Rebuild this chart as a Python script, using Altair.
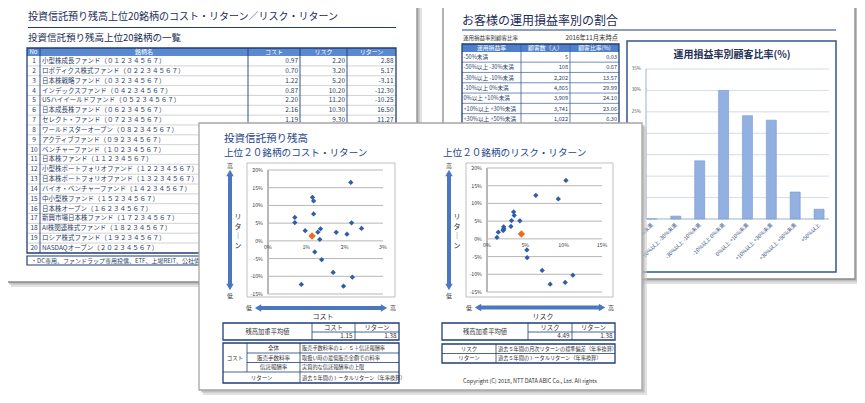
import altair as alt
import pandas as pd

FONT = "Noto Sans CJK JP"
M = 8  # page margin of the browser

# ---------------- data ----------------
fund_no = list(range(1, 21))
fund_names = [
    "小型株成長ファンド（０１２３４５６７）",
    "ロボティクス株式ファンド（０２２３４５６７）",
    "日本株戦略ファンド（０３２３４５６７）",
    "インデックスファンド（０４２３４５６７）",
    "USハイイールドファンド（０５２３４５６７）",
    "日本成長株ファンド（０６２３４５６７）",
    "セレクト・ファンド（０７２３４５６７）",
    "ワールドスターオープン（０８２３４５６７）",
    "アクティブファンド（０９２３４５６７）",
    "ベンチャーファンド（１０２３４５６７）",
    "日本株ファンド（１１２３４５６７）",
    "小型株ポートフォリオファンド（１２２３４５６７）",
    "日本株ポートフォリオファンド（１３２３４５６７）",
    "バイオ・ベンチャーファンド（１４２３４５６７）",
    "中小型株ファンド（１５２３４５６７）",
    "日本株オープン（１６２３４５６７）",
    "新興市場日本株ファンド（１７２３４５６７）",
    "AI株関連株式ファンド（１８２３４５６７）",
    "ロシア株式ファンド（１９２３４５６７）",
    "NASDAQオープン（２０２３４５６７）",
]
fund_cost = [0.97, 0.70, 1.22, 0.87, 2.20, 2.16, 1.19, 1.16, 1.19, 0.70,
             2.18, 2.44, 1.37, 1.30, 1.78, 2.06, 1.35, 1.40, 1.70, 1.97]
fund_risk = [2.20, 3.20, 5.20, 10.20, 11.20, 10.30, 9.30, 6.37, 3.47, 3.55,
             4.29, 3.12, 2.17, 2.08, 2.15, 1.47, 1.30, 5.24, 7.20, 8.24]
fund_return = [2.88, 5.17, -3.11, -12.30, -10.25, 16.50, 11.27, 12.30, 7.60, 6.60,
               5.10, 3.50, 3.40, 2.45, 2.40, 1.90, 0.40, -5.30, -8.90, -12.80]
avg_cost, avg_risk, avg_return = 1.15, 4.49, 1.38
visible_rows = 7  # rows of the fund list not covered by the front sheet

band_labels = ["-50%未満", "-50%以上 -30%未満", "-30%以上 -10%未満", "-10%以上 0%未満",
               "0%以上 +10%未満", "+10%以上 +30%未満", "+30%以上 +50%未満", "+50%以上"]
band_customers = [5, 108, 2202, 4865, 3909, 3741, 1022, 370]
band_ratio = [0.03, 0.67, 13.57, 29.99, 24.10, 23.06, 6.30, 2.28]

return_ticks = [-15, -10, -5, 0, 5, 10, 15, 20]
cost_ticks = [0, 1, 2, 3]
risk_ticks = [0, 5, 10, 15]
ratio_ticks = [0, 5, 10, 15, 20, 25, 30, 35]

# ---------------- style ----------------
NAVY = "#1f3d7a"
TITLE = "#1b2c56"
BLUE_T = "#24468a"
HEAD_A = "#5b89cf"
HEAD_B = "#4f7fc8"
ARROW = "#4a78c0"
PT = "#2f5da6"
ORANGE = "#e2711d"
GRID = "#b7b7b7"
TXT = "#2c3e66"


def sx(v):
    return v - M


def sy(v):
    return v - M


def deco_rect(rows, **mark):
    df = pd.DataFrame([{"x": sx(a), "y": sy(b), "x2": sx(c), "y2": sy(d)} for a, b, c, d in rows])
    return alt.Chart(df).mark_rect(**mark).encode(
        x=alt.X("x:Q", scale=None), x2="x2:Q",
        y=alt.Y("y:Q", scale=None), y2="y2:Q")


def deco_line(rows, **mark):
    df = pd.DataFrame([{"x": sx(a), "y": sy(b), "x2": sx(c), "y2": sy(d)} for a, b, c, d in rows])
    return alt.Chart(df).mark_rule(**mark).encode(
        x=alt.X("x:Q", scale=None), x2="x2:Q",
        y=alt.Y("y:Q", scale=None), y2="y2:Q")


def deco_text(rows, **mark):
    df = pd.DataFrame([{"x": sx(a), "y": sy(b), "t": t} for a, b, t in rows])
    props = dict(font=FONT, baseline="middle", color="#333333", fontSize=6.5, align="left")
    props.update(mark)
    return alt.Chart(df).mark_text(**props).encode(
        x=alt.X("x:Q", scale=None), y=alt.Y("y:Q", scale=None), text="t:N")


def deco_point(rows, **mark):
    df = pd.DataFrame([{"x": sx(a), "y": sy(b)} for a, b in rows])
    return alt.Chart(df).mark_point(**mark).encode(
        x=alt.X("x:Q", scale=None), y=alt.Y("y:Q", scale=None))


def page(x1, y1, x2, y2, stroke):
    return [
        deco_rect([(x1 + 4, y1 + 4, x2 + 5, y2 + 5)], fill="#c9c9c9", opacity=0.55),
        deco_rect([(x1 + 2, y1 + 2, x2 + 2.5, y2 + 2.5)], fill="#a9a9a9", opacity=0.6),
        deco_rect([(x1, y1, x2, y2)], fill="white", stroke=stroke, strokeWidth=1.3),
    ]


layers = []

# ================= Document A (back left) =================
layers += page(7, 1, 417, 282, "#8a8a8a")
layers.append(deco_text([(28, 17, "投資信託預り残高上位20銘柄のコスト・リターン／リスク・リターン")],
                        fontSize=10, color=TITLE))
layers.append(deco_line([(28, 27.5, 396, 27.5)], color=NAVY, strokeWidth=1))
layers.append(deco_text([(28, 37.5, "投資信託預り残高上位20銘柄の一覧")], fontSize=9.5, color=TITLE))

rowA_y = [61 + (r - 1) * 9.84 for r in fund_no]
layers.append(deco_rect([(27, 48, 396, 56.1)], fill=HEAD_A))
layers.append(deco_line([(27, y + 4.92, 396, y + 4.92) for y in rowA_y[:-1]], color="#c6c6c6", strokeWidth=0.8))
layers.append(deco_line([(40, 48, 40, 253), (248, 48, 248, 253), (300, 48, 300, 253), (347, 48, 347, 253)],
                        color=NAVY, strokeWidth=0.9))
layers.append(deco_rect([(27, 48, 396, 253)], fill="white", fillOpacity=0, stroke=NAVY, strokeWidth=1.3))
layers.append(deco_text([(33.5, 52.2, "No"), (144, 52.2, "銘柄名"), (274, 52.2, "コスト"),
                         (323.5, 52.2, "リスク"), (371.5, 52.2, "リターン")],
                        color="white", fontSize=6, align="center"))

tA = pd.DataFrame({
    "no": fund_no, "name": fund_names,
    "cost": [f"{v:.2f}" for v in fund_cost],
    "risk": [f"{v:.2f}" for v in fund_risk],
    "ret": [f"{v:.2f}" for v in fund_return],
})
tA_vis = tA[tA.no <= visible_rows]
ysA = alt.Scale(domain=[1, 20], range=[sy(rowA_y[0]), sy(rowA_y[-1])])


def colA(df, field, xpos, align):
    return alt.Chart(df).mark_text(font=FONT, fontSize=6.5, color=TXT, align=align, baseline="middle").encode(
        x=alt.value(sx(xpos)), y=alt.Y("no:Q", scale=ysA, axis=None), text=f"{field}:N")


layers.append(alt.layer(colA(tA, "no", 34, "center"), colA(tA, "name", 42, "left"),
                        colA(tA_vis, "cost", 298, "right"), colA(tA_vis, "risk", 345, "right"),
                        colA(tA_vis, "ret", 393.5, "right")))
layers.append(deco_rect([(27, 256, 396, 265)], fill="white", stroke=NAVY, strokeWidth=1.2))
layers.append(deco_text([(31, 260.6, "・DC専用、ファンドラップ専用投信、ETF、上場REIT、公社債投信")],
                        fontSize=6, color=TXT))

# ================= Document B (back right) =================
layers += page(443, 1, 855, 279, "#8a8a8a")
layers.append(deco_text([(462, 21, "お客様の運用損益率別の割合")], fontSize=12, color=TITLE))
layers.append(deco_line([(462, 30, 836, 30)], color=NAVY, strokeWidth=1))
layers.append(deco_text([(463, 38, "運用損益率別顧客比率")], fontSize=5.5, color="#333333"))
layers.append(deco_text([(618, 38, "2016年11月末時点")], fontSize=6.3, color="#333333", align="right"))

rowB_y = [57 + i * 10.3 for i in range(len(band_labels))]
layers.append(deco_rect([(462, 44, 619, 52)], fill=HEAD_B))
layers.append(deco_line([(462, y + 5.15, 619, y + 5.15) for y in rowB_y[:-1]], color="#3d5d9a", strokeWidth=0.7))
layers.append(deco_line([(521, 44, 521, 135), (570, 44, 570, 135)], color="#3d5d9a", strokeWidth=0.8))
layers.append(deco_rect([(462, 44, 619, 135)], fill="white", fillOpacity=0, stroke=NAVY, strokeWidth=1.3))
layers.append(deco_text([(491.5, 48.2, "運用損益率"), (545.5, 48.2, "顧客数（人）"), (594.5, 48.2, "顧客比率(%)")],
                        color="white", fontSize=5.8, align="center"))

tB = pd.DataFrame({
    "i": list(range(len(band_labels))), "band": band_labels,
    "cnt": [f"{v:,}" for v in band_customers],
    "pct": [f"{v:.2f}" for v in band_ratio],
})
ysBt = alt.Scale(domain=[0, len(band_labels) - 1], range=[sy(rowB_y[0]), sy(rowB_y[-1])])


def colB(field, xpos, align):
    return alt.Chart(tB).mark_text(font=FONT, fontSize=5.6, color=TXT, align=align, baseline="middle").encode(
        x=alt.value(sx(xpos)), y=alt.Y("i:Q", scale=ysBt, axis=None), text=f"{field}:N")


layers.append(alt.layer(colB("band", 463.5, "left"), colB("cnt", 568, "right"), colB("pct", 617, "right")))

# bar chart panel
layers.append(deco_rect([(627, 41, 836, 272)], fill="white", stroke="#34558f", strokeWidth=1.5))
layers.append(deco_text([(732, 55, "運用損益率別顧客比率(%)")], fontSize=10, fontWeight="bold",
                        color="#1f2f55", align="center"))

xsB = alt.Scale(domain=band_labels, range=[sx(640), sx(831)], paddingInner=0.58, paddingOuter=0.29)
ysB = alt.Scale(domain=[0, 35], range=[sy(219), sy(69)])
bdf = pd.DataFrame({"band": band_labels, "ratio": band_ratio})
tickB = pd.DataFrame({"v": ratio_ticks, "t": [f"{v}%" for v in ratio_ticks]})
bar_grid = alt.Chart(tickB[tickB.v > 0]).mark_rule(color="#c5d3ea", strokeWidth=0.8).encode(
    y=alt.Y("v:Q", scale=ysB, axis=None), x=alt.value(sx(646)), x2=alt.value(sx(829)))
bar_ylab = alt.Chart(tickB).mark_text(font=FONT, fontSize=4.5, color="#555555", align="right",
                                      baseline="middle").encode(
    y=alt.Y("v:Q", scale=ysB, axis=None), x=alt.value(sx(641)), text="t:N")
bar_marks = alt.Chart(bdf).mark_bar(color="#93b1e0", stroke="#7396cf", strokeWidth=0.6).encode(
    x=alt.X("band:N", scale=xsB, axis=None), y=alt.Y("ratio:Q", scale=ysB, axis=None))
bar_xlab = alt.Chart(bdf).mark_text(font=FONT, fontSize=5.3, color="#3b5282", align="right",
                                    baseline="middle", angle=315).encode(
    x=alt.X("band:N", scale=xsB, axis=None), y=alt.value(sy(224)), text="band:N")
layers.append(alt.layer(bar_grid, bar_ylab, bar_marks, bar_xlab))
layers.append(deco_line([(646, 69, 646, 219), (646, 219, 829, 219)], color="#8ea6cf", strokeWidth=0.9))

# ================= Document C (front) =================
layers += page(199, 123, 642, 390, "#a6a6a6")
layers.append(deco_text([(224, 138.5, "投資信託預り残高")], fontSize=10.5, color=BLUE_T))
layers.append(deco_text([(224, 153, "上位２０銘柄のコスト・リターン"),
                         (443, 153, "上位２０銘柄のリスク・リターン")], fontSize=9.6, color=BLUE_T))

# frames of the two scatter plots
layers.append(deco_rect([(247, 163, 395, 297), (466, 163, 613, 297)], fill="white",
                        stroke="#bfbfbf", strokeWidth=1))


def scatter(xfield, xdomain, xr, yr, xticks, ylab_x, xlab_y, avg_x):
    xs = alt.Scale(domain=xdomain, range=[sx(xr[0]), sx(xr[1])])
    ys = alt.Scale(domain=[-15, 20], range=[sy(yr[0]), sy(yr[1])])
    pts = pd.DataFrame({"x": [fund_cost, fund_risk][xfield], "ret": fund_return})
    yt = pd.DataFrame({"v": return_ticks, "t": [f"{v}%" for v in return_ticks]})
    xt = pd.DataFrame({"v": xticks, "t": [f"{v}%" for v in xticks]})
    avg = pd.DataFrame({"x": [avg_x], "ret": [avg_return]})
    grid = alt.Chart(yt).mark_rule(color=GRID, strokeWidth=1).encode(
        y=alt.Y("v:Q", scale=ys, axis=None), x=alt.value(sx(xr[0])), x2=alt.value(sx(xr[1])))
    yaxis = alt.Chart(yt).mark_rule(color=GRID, strokeWidth=1).encode(
        x=alt.value(sx(xr[0])), y=alt.value(sy(yr[1])), y2=alt.value(sy(yr[0])))
    ylab = alt.Chart(yt).mark_text(font=FONT, fontSize=5.3, color="#404040", align="right",
                                   baseline="middle").encode(
        y=alt.Y("v:Q", scale=ys, axis=None), x=alt.value(sx(ylab_x)), text="t:N")
    xlab = alt.Chart(xt).mark_text(font=FONT, fontSize=5.3, color="#404040", align="center",
                                   baseline="middle").encode(
        x=alt.X("v:Q", scale=xs, axis=None), y=alt.value(sy(xlab_y)), text="t:N")
    dots = alt.Chart(pts).mark_point(shape="diamond", filled=True, size=28, color=PT, opacity=1).encode(
        x=alt.X("x:Q", scale=xs, axis=None), y=alt.Y("ret:Q", scale=ys, axis=None))
    avgm = alt.Chart(avg).mark_point(shape="diamond", filled=True, size=55, color=ORANGE, opacity=1).encode(
        x=alt.X("x:Q", scale=xs, axis=None), y=alt.Y("ret:Q", scale=ys, axis=None))
    return alt.layer(grid, yaxis, ylab, xlab, dots, avgm)


layers.append(scatter(0, [0, 3], (268, 383), (294, 170), cost_ticks, 263, 247, avg_cost))
layers.append(scatter(1, [0, 15], (487, 602), (292, 168), risk_ticks, 482, 245, avg_risk))


def arrows(vx, hx1, hx2, hy, xlabel, xlabel_x):
    out = []
    out.append(deco_line([(vx, 174, vx, 286), (hx1 + 3, hy, hx2 - 3, hy)], color=ARROW, strokeWidth=4))
    out.append(deco_point([(vx, 173)], shape="triangle-up", filled=True, size=55, color=ARROW, opacity=1))
    out.append(deco_point([(vx, 287)], shape="triangle-down", filled=True, size=55, color=ARROW, opacity=1))
    out.append(deco_point([(hx1 + 3, hy)], shape="triangle-left", filled=True, size=55, color=ARROW, opacity=1))
    out.append(deco_point([(hx2 - 3, hy)], shape="triangle-right", filled=True, size=55, color=ARROW, opacity=1))
    out.append(deco_text([(vx, 166, "高"), (vx, 295.5, "低"), (hx1 - 6, hy, "低"), (hx2 + 6, hy, "高")],
                         fontSize=6, color="#404040", align="center"))
    out.append(deco_text([(vx + 8, 217, "リ"), (vx + 8, 226.5, "タ"), (vx + 8, 236, "｜"), (vx + 8, 245.5, "ン")],
                         fontSize=7, color="#303030", align="center"))
    out.append(deco_text([(xlabel_x, 316.5, xlabel)], fontSize=7, color="#303030", align="center"))
    return out


layers += arrows(230, 255, 387, 308, "コスト", 323)
layers += arrows(449, 475, 605, 307.5, "リスク", 543)

# ---- tables below the left scatter ----
layers.append(deco_line([(312, 323, 312, 340), (355, 323, 355, 340), (312, 332, 399, 332)],
                        color=NAVY, strokeWidth=0.8))
layers.append(deco_rect([(223, 323, 399, 340)], fill="white", fillOpacity=0, stroke=NAVY, strokeWidth=1.3))
layers.append(deco_text([(267.5, 331.5, "残高加重平均値"), (333.5, 327.6, "コスト"), (377, 327.6, "リターン")],
                        fontSize=6.3, color="#333333", align="center"))
layers.append(deco_text([(352.5, 336.4, f"{avg_cost:.2f}"), (396.5, 336.4, f"{avg_return:.2f}")],
                        fontSize=6.3, color="#333333", align="right"))

layers.append(deco_line([(247, 353, 399, 353), (247, 362.5, 399, 362.5), (223, 372, 399, 372),
                         (247, 343, 247, 372), (300, 343, 300, 383)], color=NAVY, strokeWidth=0.8))
layers.append(deco_rect([(223, 343, 399, 383)], fill="white", fillOpacity=0, stroke=NAVY, strokeWidth=1.3))
layers.append(deco_text([(235, 357.7, "コスト"), (273.5, 348, "全体"), (273.5, 357.7, "販売手数料率"),
                         (273.5, 367.2, "信託報酬率"), (261.5, 377.5, "リターン")],
                        fontSize=5.5, color="#333333", align="center"))
layers.append(deco_text([(302, 348, "販売手数料率の１／５＋信託報酬率"), (302, 357.7, "取扱い時の最低販売金額での料率"),
                         (302, 367.2, "実質的な信託報酬率の上限"), (302, 377.5, "過去５年間のトータルリターン（年率換算）")],
                        fontSize=5.2, color="#333333", align="left"))

# ---- tables below the right scatter ----
layers.append(deco_line([(528, 323, 528, 340), (572, 323, 572, 340), (528, 332, 615, 332)],
                        color=NAVY, strokeWidth=0.8))
layers.append(deco_rect([(442, 323, 615, 340)], fill="white", fillOpacity=0, stroke=NAVY, strokeWidth=1.3))
layers.append(deco_text([(485, 331.5, "残高加重平均値"), (550, 327.6, "リスク"), (593.5, 327.6, "リターン")],
                        fontSize=6.3, color="#333333", align="center"))
layers.append(deco_text([(569.5, 336.4, f"{avg_risk:.2f}"), (612.5, 336.4, f"{avg_return:.2f}")],
                        fontSize=6.3, color="#333333", align="right"))
layers.append(deco_line([(442, 353.5, 615, 353.5), (496, 344, 496, 363)], color=NAVY, strokeWidth=0.8))
layers.append(deco_rect([(442, 344, 615, 363)], fill="white", fillOpacity=0, stroke=NAVY, strokeWidth=1.3))
layers.append(deco_text([(469, 348.8, "リスク"), (469, 358.3, "リターン")],
                        fontSize=5.5, color="#333333", align="center"))
layers.append(deco_text([(498, 348.8, "過去５年間の月次リターンの標準偏差（年率換算）"),
                         (498, 358.3, "過去５年間のトータルリターン（年率換算）")],
                        fontSize=5.2, color="#333333", align="left"))
layers.append(deco_text([(463, 381, "Copyright (C)  2018, NTT DATA ABIC Co., Ltd. All rights")],
                        fontSize=5.5, color="#333333", align="left"))

chart = alt.layer(*layers).resolve_scale(x="independent", y="independent").properties(
    width=849, height=387, padding=0, autosize=alt.AutoSizeParams(type="none"), background="white"
).configure_view(strokeWidth=0)

chart.save("out.html", embed_options={"renderer": "svg", "actions": False})
